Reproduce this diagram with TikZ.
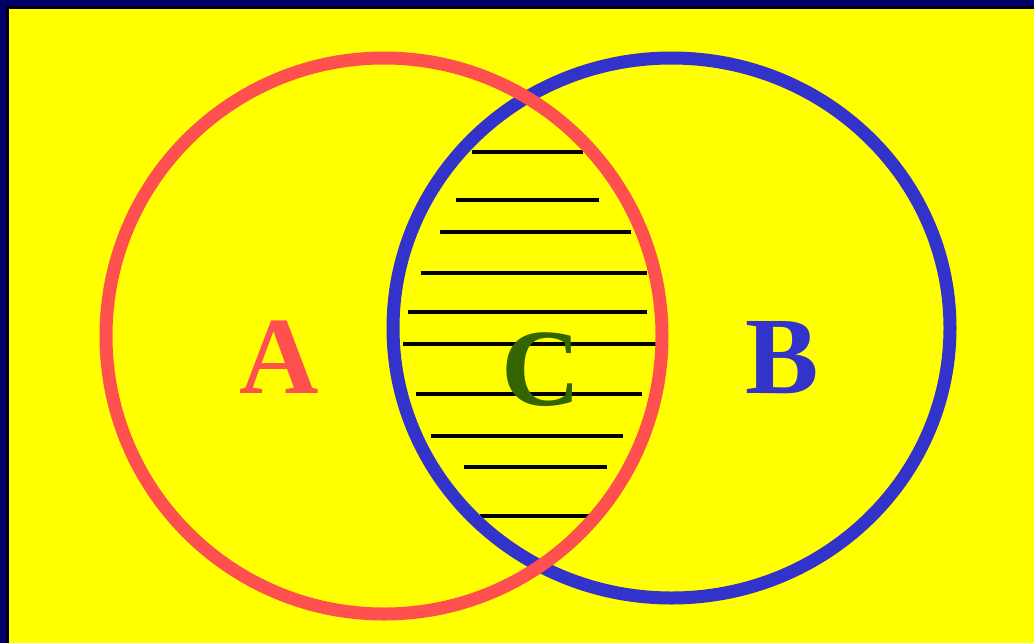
\documentclass[tikz,border=0pt]{standalone}
\usepackage{fontspec}
\setmainfont{Liberation Serif}
\definecolor{navybg}{HTML}{000066}
\definecolor{yel}{HTML}{FFFF00}
\definecolor{redc}{HTML}{FF5050}
\definecolor{bluec}{HTML}{3333CC}
\definecolor{greenc}{HTML}{336600}
\tikzset{
  hatch/.style={black, line width=3.2pt},
  letter/.style={anchor=base, inner sep=0pt, font=\fontsize{110}{110}\selectfont\bfseries}
}
\begin{document}
\begin{tikzpicture}[x=1pt,y=-1pt]
\useasboundingbox (0,0) rectangle (1034,643);
\fill[navybg] (0,0) rectangle (1034,643);
\fill[black] (6,6) rectangle (1034,643);
\fill[yel] (9,9) rectangle (1034,643);
% hatch lines
\foreach \y/\a/\b in {152/472/583, 200/456/599, 232/440/631, 273/421/647, 312/408/647, 344/403/659, 394/416/642, 436/431/623, 467/464/607, 516/480/592}
  \draw[hatch] (\a,\y) -- (\b,\y);
% circles
\draw[bluec, line width=13pt] (671.5,328) ellipse [x radius=278.5, y radius=270];
\draw[redc, line width=13pt] (384,336) circle [radius=278];
% labels
\node[letter, text=redc] (A) at (279,393) {A};
\node[letter, text=bluec] (B) at (782,393) {B};
\node[letter, text=greenc] (C) at (541,405) {C};
\end{tikzpicture}
\end{document}
